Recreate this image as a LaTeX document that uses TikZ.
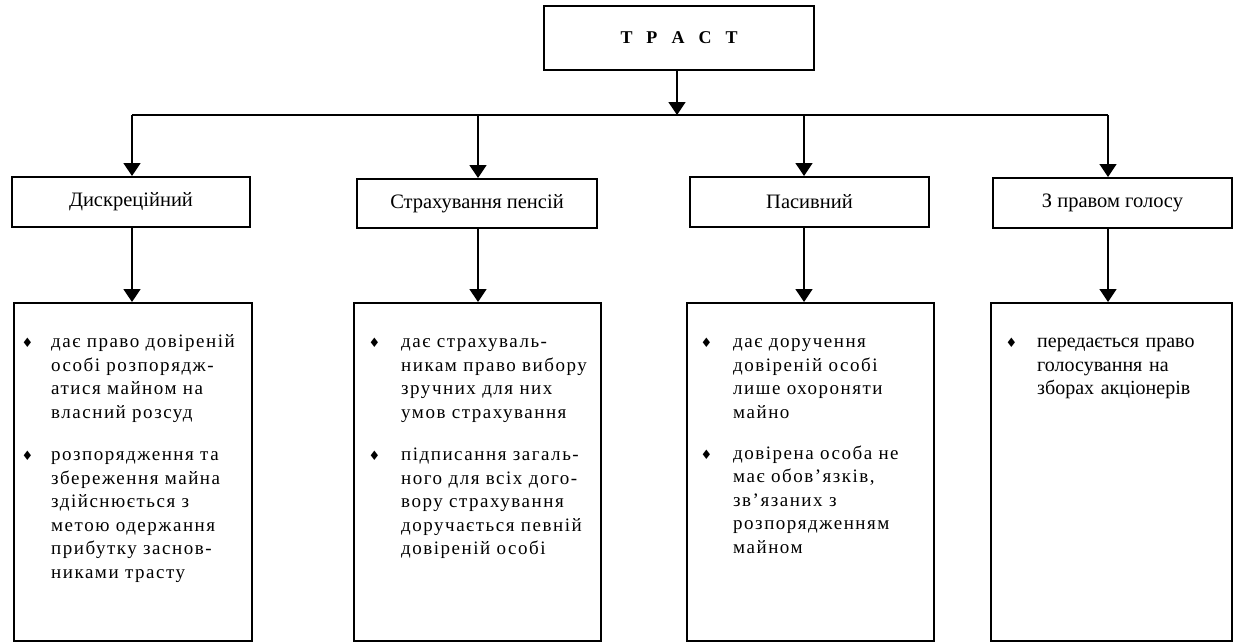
\documentclass[tikz,border=0pt]{standalone}
\usepackage{fontspec}
\setmainfont{Liberation Serif}
\newfontfamily\symfont{DejaVu Sans}
\newfontfamily\spacedfont[LetterSpace=8]{Liberation Serif}
\usetikzlibrary{arrows.meta}

% bullet hung to the left of the text column; the strut fixes the line height
\newcommand{\itembul}[1]{\leavevmode\rule{0pt}{20pt}\llap{{\symfont\fontsize{13}{13}\selectfont ♦}\hspace{#1}}}

\begin{document}
\begin{tikzpicture}[x=1pt, y=-1pt,
  frame/.style={draw, line width=2pt, inner sep=0pt},
  headbox/.style={frame, font=\fontsize{18}{18}\selectfont\bfseries},
  catbox/.style={frame, minimum height=50pt, font=\fontsize{20.5}{20.5}\selectfont},
  descbox/.style={frame, minimum height=338pt},
  desctext/.style={anchor=north west, inner sep=0pt, align=left,
    font=\spacedfont\fontsize{19}{23.5}\selectfont},
  plaintext/.style={anchor=north west, inner sep=0pt, align=left,
    font=\fontsize{20}{23.5}\selectfont},
  link/.style={line width=1.5pt},
  arrow/.style={link, -{Triangle[width=17pt, length=13pt]}}]
\useasboundingbox (0,0) rectangle (1233,643);

% root
\node[headbox, minimum width=270pt, minimum height=64pt] (t) at (679,38)
  {Т\hspace{14pt}Р\hspace{14pt}А\hspace{14pt}С\hspace{14pt}Т\hspace{11pt}};

% branch points on the distribution line
\coordinate (k0) at (677,115);
\coordinate (k1) at (132,115);
\coordinate (k2) at (478,115);
\coordinate (k3) at (804,115);
\coordinate (k4) at (1108,115);

% categories
\node[catbox, minimum width=238pt] (c1) at (131,202) {Дискреційний};
\node[catbox, minimum width=240pt, minimum height=49pt] (c2) at (477,203.5) {Страхування пенсій};
\node[catbox, minimum width=239pt] (c3) at (809.5,202) {Пасивний};
\node[catbox, minimum width=239pt] (c4) at (1112.5,203) {З правом голосу};

% description frames
\node[descbox, minimum width=238pt] (d1) at (133,472) {};
\node[descbox, minimum width=247pt] (d2) at (477.5,472) {};
\node[descbox, minimum width=247pt] (d3) at (810.5,472) {};
\node[descbox, minimum width=241pt] (d4) at (1111.5,472) {};

% description texts
\node[desctext, text width=200pt] (l1) at (51,327.5) {%
  \itembul{18pt}дає право довіреній\\
  особі розпорядж-\\
  атися майном на\\
  власний розсуд\\[17.5pt]
  \itembul{18pt}розпорядження та\\
  збереження майна\\
  здійснюється з\\
  метою одержання\\
  прибутку заснов-\\
  никами трасту};
\node[desctext, text width=195pt] (l2) at (401,327.5) {%
  \itembul{21pt}дає страхуваль-\\
  никам право вибору\\
  зручних для них\\
  умов страхування\\[17.5pt]
  \itembul{21pt}підписання загаль-\\
  ного для всіх дого-\\
  вору страхування\\
  доручається певній\\
  довіреній особі};
\node[desctext, text width=195pt] (l3) at (733,327.5) {%
  \itembul{21pt}дає доручення\\
  довіреній особі\\
  лише охороняти\\
  майно\\[17.5pt]
  \itembul{21pt}довірена особа не\\
  має обов’язків,\\
  зв’язаних з\\
  розпорядженням\\
  майном};
\node[plaintext, text width=190pt] (l4) at (1037,327.5) {%
  \itembul{20pt}передається право\\
  голосування на\\
  зборах акціонерів};

% connectors
\draw[arrow] (t.south -| k0) -- (k0);
\draw[link] (k1) -- (k4);
\foreach \i in {1,2,3,4} {
  \draw[arrow] (k\i) -- (k\i |- c\i.north);
  \draw[arrow] (c\i.south -| k\i) -- (k\i |- d\i.north);
}
\end{tikzpicture}
\end{document}
